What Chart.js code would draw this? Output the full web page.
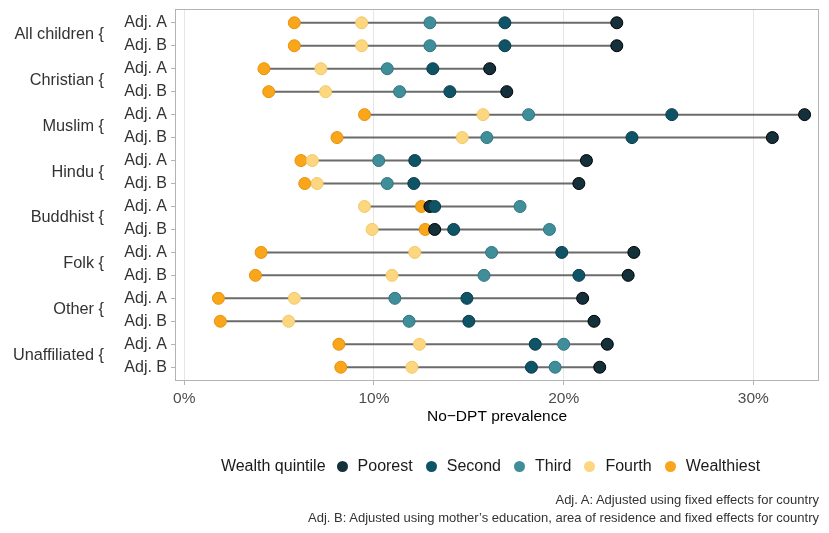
<!DOCTYPE html>
<html>
<head>
<meta charset="utf-8">
<script src="https://cdn.jsdelivr.net/npm/chart.js@4.4.0/dist/chart.umd.min.js"></script>
<style>
  body { margin: 0; background: #fff; font-family: "Liberation Sans", Arial, sans-serif; }
  #wrap { position: relative; width: 829px; height: 533px; }
  #legend { position: absolute; left: 175px; width: 644px; top: 455px; height: 22px;
            display: flex; justify-content: center; align-items: center; font-size: 16px; color: #1a1a1a; }
  #legend .ttl { margin-right: 11px; }
  #legend .dot { width: 11px; height: 11px; border-radius: 50%; margin-right: 10px; }
  #legend .lbl { margin-right: 13px; }
  #caption { position: absolute; right: 10px; top: 491px; text-align: right; font-size: 13px;
             line-height: 18px; color: #333; }
</style>
</head>
<body>
<div id="wrap">
  <canvas id="dumbbell" width="829" height="533"></canvas>
  <div id="legend"></div>
  <div id="caption">
    Adj. A: Adjusted using fixed effects for country<br>
    Adj. B: Adjusted using mother’s education, area of residence and fixed effects for country
  </div>
</div>
<script>
const groups = ['All children', 'Christian', 'Muslim', 'Hindu', 'Buddhist', 'Folk', 'Other', 'Unaffiliated'];
const adjustments = ['Adj. A', 'Adj. B'];
const quintiles = ['Poorest', 'Second', 'Third', 'Fourth', 'Wealthiest'];
const xTicks = [0, 10, 20, 30];

// No-DPT prevalence (%), one value per row: group x adjustment
const poorest    = [22.8, 22.8, 16.1, 17.0, 32.7, 31.0, 21.2, 20.8, 12.95, 13.2, 23.7, 23.4, 21.0, 21.6, 22.3, 21.9];
const second     = [16.9, 16.9, 13.1, 14.0, 25.7, 23.6, 12.15, 12.1, 13.2, 14.2, 19.9, 20.8, 14.9, 15.0, 18.5, 18.3];
const third      = [12.95, 12.95, 10.7, 11.35, 18.15, 15.95, 10.25, 10.7, 17.7, 19.25, 16.2, 15.8, 11.1, 11.85, 20.0, 19.55];
const fourth     = [9.35, 9.35, 7.2, 7.45, 15.75, 14.65, 6.75, 7.0, 9.5, 9.9, 12.15, 10.95, 5.8, 5.5, 12.4, 12.0];
const wealthiest = [5.8, 5.8, 4.2, 4.45, 9.5, 8.05, 6.15, 6.35, 12.5, 12.7, 4.05, 3.75, 1.8, 1.9, 8.15, 8.25];

document.addEventListener('DOMContentLoaded', function() {
    const series = [poorest, second, third, fourth, wealthiest];
    const fills = ['#14303a', '#0e5466', '#3f8e9a', '#fdd680', '#f9a61b'];
    const edges = ['#000000', '#0a3a47', '#2f7480', '#f3c765', '#e8920a'];
    const drawOrder = [2, 1, 3, 4, 5];

    const rowLabels = [];
    groups.forEach(function(g) {
        adjustments.forEach(function(a) { rowLabels.push(a); });
    });

    const datasets = [];
    rowLabels.forEach(function(lab, i) {
        const vals = series.map(function(s) { return s[i]; });
        datasets.push({
            data: [{x: Math.min.apply(null, vals), y: i + 1}, {x: Math.max.apply(null, vals), y: i + 1}],
            showLine: true,
            borderColor: '#6b6b6b',
            borderWidth: 2,
            pointRadius: 0,
            order: 10
        });
    });
    series.forEach(function(s, k) {
        datasets.push({
            label: quintiles[k],
            data: s.map(function(v, i) { return {x: v, y: i + 1}; }),
            backgroundColor: fills[k],
            borderColor: edges[k],
            borderWidth: 1,
            pointRadius: 6,
            order: drawOrder[k]
        });
    });

    const groupLabels = {
        id: 'groupLabels',
        afterDraw: function(chart) {
            const ctx = chart.ctx;
            const ys = chart.scales.y;
            const area = chart.chartArea;
            ctx.save();
            ctx.font = '16.3px "Liberation Sans", Arial, sans-serif';
            ctx.fillStyle = '#333';
            ctx.textAlign = 'right';
            ctx.textBaseline = 'middle';
            groups.forEach(function(g, i) {
                const y = (ys.getPixelForValue(2 * i + 1) + ys.getPixelForValue(2 * i + 2)) / 2;
                ctx.fillText(g + ' {', 104, y);
            });
            ctx.strokeStyle = '#b3b3b3';
            ctx.lineWidth = 1;
            ctx.strokeRect(area.left + 0.5, area.top + 0.5, area.right - area.left - 1, area.bottom - area.top - 1);
            ctx.restore();
        }
    };

    new Chart(document.getElementById('dumbbell').getContext('2d'), {
        type: 'scatter',
        data: { datasets: datasets },
        options: {
            responsive: false,
            animation: false,
            layout: { padding: { left: 0, right: 10, top: 9, bottom: 102 } },
            plugins: { legend: { display: false }, tooltip: { enabled: false } },
            scales: {
                x: {
                    type: 'linear',
                    min: -0.49,
                    max: 33.46,
                    afterBuildTicks: function(scale) {
                        scale.ticks = xTicks.map(function(v) { return {value: v}; });
                    },
                    afterFit: function(scale) {
                        scale.height = 50;
                        scale.paddingLeft = 0;
                        scale.paddingRight = 0;
                    },
                    ticks: {
                        callback: function(v) { return v + '%'; },
                        font: { family: '"Liberation Sans", Arial, sans-serif', size: 15.5 },
                        color: '#4d4d4d',
                        padding: 4
                    },
                    grid: { color: '#e6e6e6', lineWidth: 1, tickLength: 4, tickColor: '#b3b3b3' },
                    border: { display: false },
                    title: {
                        display: true,
                        text: 'No\u2212DPT prevalence',
                        color: '#000',
                        font: { family: '"Liberation Sans", Arial, sans-serif', size: 15.5 },
                        padding: { top: 0, bottom: 5 }
                    }
                },
                y: {
                    type: 'linear',
                    reverse: true,
                    min: 0.4,
                    max: 16.6,
                    afterBuildTicks: function(scale) {
                        scale.ticks = rowLabels.map(function(l, i) { return {value: i + 1}; });
                    },
                    afterFit: function(scale) {
                        scale.width = 175;
                        scale.paddingTop = 0;
                        scale.paddingBottom = 0;
                    },
                    ticks: {
                        callback: function(v) { return rowLabels[v - 1]; },
                        font: { family: '"Liberation Sans", Arial, sans-serif', size: 16 },
                        color: '#333',
                        padding: 4
                    },
                    grid: { drawOnChartArea: false, tickLength: 4, tickColor: '#b3b3b3' },
                    border: { display: false }
                }
            }
        },
        plugins: [groupLabels]
    });

    const legend = document.getElementById('legend');
    const ttl = document.createElement('span');
    ttl.className = 'ttl';
    ttl.textContent = 'Wealth quintile';
    legend.appendChild(ttl);
    quintiles.forEach(function(q, k) {
        const dot = document.createElement('span');
        dot.className = 'dot';
        dot.style.background = fills[k];
        legend.appendChild(dot);
        const lbl = document.createElement('span');
        lbl.className = 'lbl';
        lbl.textContent = q;
        legend.appendChild(lbl);
    });
});
</script>
</body>
</html>
